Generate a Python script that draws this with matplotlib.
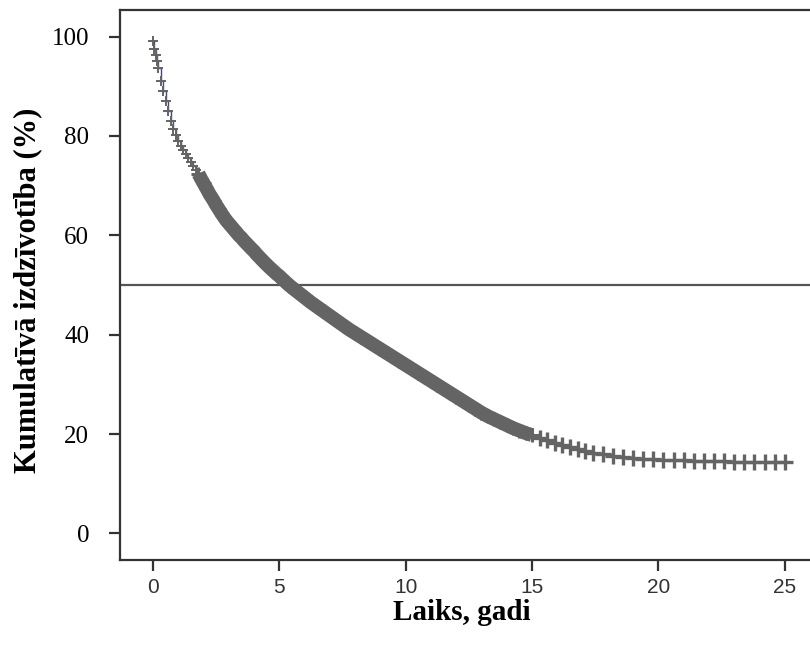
import matplotlib
matplotlib.use("Agg")
import matplotlib.pyplot as plt

# survival curve (time in years, cumulative survival %)
laiks = [0.0, 0.05, 0.1, 0.15, 0.2, 0.3, 0.4, 0.5, 0.6, 0.7, 0.8, 0.9, 1.0,
         1.1, 1.2, 1.3, 1.4, 1.5, 1.6, 1.7, 1.8, 1.9, 2.0, 2.1, 2.25, 2.4,
         2.5, 2.6, 2.75, 2.9, 3.0, 3.1, 3.25, 3.4, 3.5, 3.6, 3.75, 3.9, 4.0,
         4.1, 4.25, 4.4, 4.5, 4.6, 4.75, 4.9, 5.0, 5.1, 5.25, 5.4, 5.5, 5.6,
         5.75, 5.9, 6.0, 6.25, 6.5, 6.75, 7.0, 7.25, 7.5, 7.75, 8.0, 8.25,
         8.5, 8.75, 9.0, 9.25, 9.5, 9.75, 10.0, 10.25, 10.5, 10.75, 11.0,
         11.25, 11.5, 11.75, 12.0, 12.25, 12.5, 12.75, 13.0, 13.25, 13.5,
         13.75, 14.0, 14.25, 14.5, 14.75, 15.0, 15.3, 15.6, 15.9, 16.2, 16.5,
         16.8, 17.1, 17.4, 17.8, 18.2, 18.6, 19.0, 19.4, 19.8, 20.2, 20.6,
         21.0, 21.4, 21.8, 22.2, 22.6, 23.0, 23.4, 23.8, 24.2, 24.6, 25.0]
izdz = [99.2, 97.5, 96.3, 95.0, 93.6, 91.1, 89.0, 87.0, 85.0, 83.1, 81.4,
        80.1, 79.0, 78.0, 77.1, 76.3, 75.5, 74.7, 73.9, 73.1, 72.4, 71.4,
        70.5, 69.6, 68.2, 67.0, 66.1, 65.3, 64.1, 63.0, 62.4, 61.8, 60.9,
        60.0, 59.5, 58.9, 58.1, 57.3, 56.8, 56.2, 55.4, 54.6, 54.1, 53.6,
        52.9, 52.2, 51.8, 51.3, 50.6, 49.9, 49.5, 49.1, 48.5, 47.9, 47.5,
        46.5, 45.6, 44.7, 43.8, 42.9, 42.0, 41.1, 40.3, 39.5, 38.7, 37.9,
        37.1, 36.3, 35.5, 34.7, 33.9, 33.1, 32.3, 31.5, 30.7, 29.9, 29.1,
        28.3, 27.5, 26.7, 25.9, 25.1, 24.3, 23.6, 23.0, 22.4, 21.8, 21.2,
        20.7, 20.2, 19.8, 19.3, 18.8, 18.3, 17.8, 17.4, 17.0, 16.6, 16.2,
        15.9, 15.6, 15.4, 15.2, 15.0, 14.9, 14.8, 14.7, 14.7, 14.6, 14.6,
        14.5, 14.5, 14.4, 14.4, 14.4, 14.4, 14.4, 14.4]

x_ticks = [0, 5, 10, 15, 20, 25]
y_ticks = [0, 20, 40, 60, 80, 100]

# split the curve: thin early part, dense middle, sparse tail
agr = [(t, s) for t, s in zip(laiks, izdz) if t < 1.8]
vid = [(t, s) for t, s in zip(laiks, izdz) if 1.8 <= t <= 15.0]
beig = [(t, s) for t, s in zip(laiks, izdz) if t > 15.0]

fig = plt.figure(figsize=(8.1, 6.5), dpi=100)
ax = fig.add_axes([0.148, 0.138, 0.852, 0.847])

pel = "#646464"
ax.step(laiks, izdz, where="post", color="#3f4a86", lw=1.0, zorder=2)
ax.plot([p[0] for p in vid], [p[1] for p in vid], color=pel, lw=10,
        solid_capstyle="butt", zorder=3)
ax.plot([p[0] for p in agr], [p[1] for p in agr], ls="none", marker="+",
        ms=7, mew=1.4, color=pel, zorder=3)
ax.plot([p[0] for p in vid], [p[1] for p in vid], ls="none", marker="+",
        ms=10, mew=2.2, color=pel, zorder=3)
ax.plot([p[0] for p in beig], [p[1] for p in beig], ls="none", marker="+",
        ms=11, mew=2.4, color=pel, zorder=3)
ax.axhline(50, color="#555555", lw=1.6, zorder=1)

ax.set_xlim(-1.31, 26.0)
ax.set_ylim(-5.4, 105.4)
ax.set_xticks(x_ticks)
ax.set_yticks(y_ticks)

for s in ["left", "bottom", "top"]:
    ax.spines[s].set_linewidth(1.6)
    ax.spines[s].set_color("#333333")
ax.spines["right"].set_visible(False)
ax.tick_params(axis="both", direction="out", length=8, width=1.6,
               color="#333333")
ax.tick_params(axis="y", pad=14)
ax.tick_params(axis="x", pad=5)

for lab in ax.get_yticklabels():
    lab.set_fontfamily("Liberation Serif")
    lab.set_fontsize(18)
for lab in ax.get_xticklabels():
    lab.set_fontfamily(["Liberation Sans Narrow", "Liberation Sans"])
    lab.set_fontsize(15)
    lab.set_color("#333333")

ax.set_xlabel("Laiks, gadi", fontfamily="Liberation Serif",
              fontweight="bold", fontsize=21)
ax.set_ylabel("Kumulatīvā izdzīvotība (%)", fontfamily="Liberation Serif",
              fontweight="bold", fontsize=22)
ax.xaxis.set_label_coords(0.496, -0.07)
ax.yaxis.set_label_coords(-0.112, 0.49)

plt.savefig("out.png", dpi=100)
